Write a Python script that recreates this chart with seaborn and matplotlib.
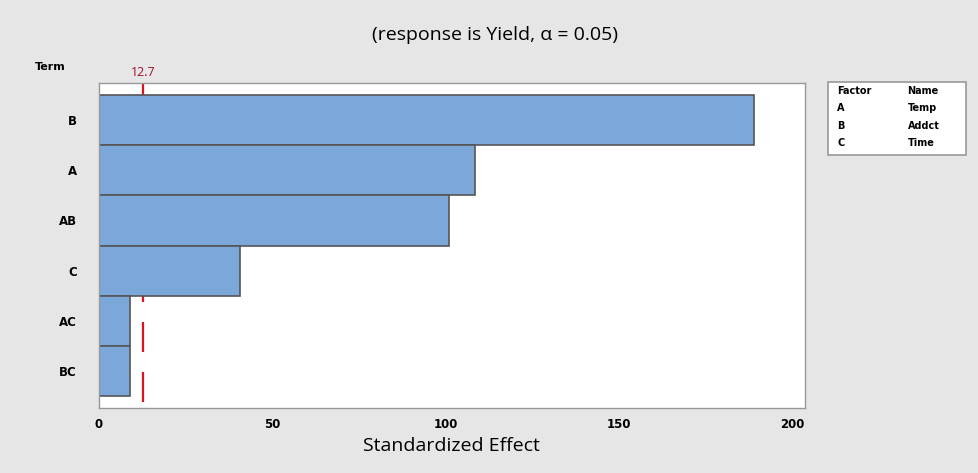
import matplotlib
matplotlib.use("Agg")
import matplotlib.pyplot as plt
import seaborn as sns
import pandas as pd

# Pareto chart of standardized effects
terms = ["B", "A", "AB", "C", "AC", "BC"]
effects = [189.0, 108.5, 101.0, 40.7, 8.9, 8.9]
critical_value = 12.7
factors = ["A", "B", "C"]
factor_names = ["Temp", "Addct", "Time"]

df = pd.DataFrame({"Term": terms, "Effect": effects})

sns.set_style("white")
plt.rcParams["font.family"] = ["Open Sans", "DejaVu Sans"]
plt.rcParams["text.color"] = "black"
plt.rcParams["axes.labelcolor"] = "black"
plt.rcParams["xtick.labelcolor"] = "black"
plt.rcParams["ytick.labelcolor"] = "black"

fig = plt.figure(figsize=(9.79, 4.73), dpi=100, facecolor="#e6e6e6")
ax = fig.add_axes([0.101, 0.1374, 0.721, 0.687])
ax.set_facecolor("white")

sns.barplot(data=df, x="Effect", y="Term", orient="h", color="#7ba7d9",
            edgecolor="#555555", linewidth=1.2, width=1.0, saturation=1, ax=ax, zorder=2)

# reference line sits behind the bars
ax.axvline(critical_value, color="#e0101e", linestyle=(19.8, (13.5, 9)), linewidth=1.6, zorder=1)
ax.text(critical_value, 1.012, f"{critical_value}", transform=ax.get_xaxis_transform(),
        ha="center", va="bottom", color="#a0102a", fontsize=9)

ax.set_xlim(0, 203.7)
ax.set_ylim(5.74, -0.74)
ax.set_xticks([0, 50, 100, 150, 200])
ax.set_xlabel("Standardized Effect", fontsize=14, labelpad=4)
ax.set_ylabel("")
ax.tick_params(axis="both", length=4, color="#888888")
ax.tick_params(axis="y", pad=12)
for lab in ax.get_xticklabels() + ax.get_yticklabels():
    lab.set_fontweight("bold")
    lab.set_fontfamily("DejaVu Sans")
    lab.set_fontsize(8.5)
for s in ax.spines.values():
    s.set_color("#999999")
    s.set_linewidth(1)

fig.text(0.036, 0.858, "Term", fontsize=8, fontweight="bold", family="DejaVu Sans",
         ha="left", va="center")
fig.text(0.506, 0.925, "(response is Yield, α = 0.05)", fontsize=14, ha="center", va="center")

# factor legend box
lx, ly, lw, lh = 0.846, 0.672, 0.141, 0.155
box = plt.Rectangle((lx, ly), lw, lh, transform=fig.transFigure, facecolor="white",
                    edgecolor="#999999", linewidth=1.2)
fig.patches.append(box)
rows = [("Factor", "Name")] + list(zip(factors, factor_names))
for i, (f, n) in enumerate(rows):
    yy = 0.808 - i * 0.037
    fig.text(0.855, yy, f, fontsize=7, fontweight="bold", family="DejaVu Sans", va="center")
    fig.text(0.927, yy, n, fontsize=7, fontweight="bold", family="DejaVu Sans", va="center")

fig.savefig("out.png", dpi=100, facecolor=fig.get_facecolor())
